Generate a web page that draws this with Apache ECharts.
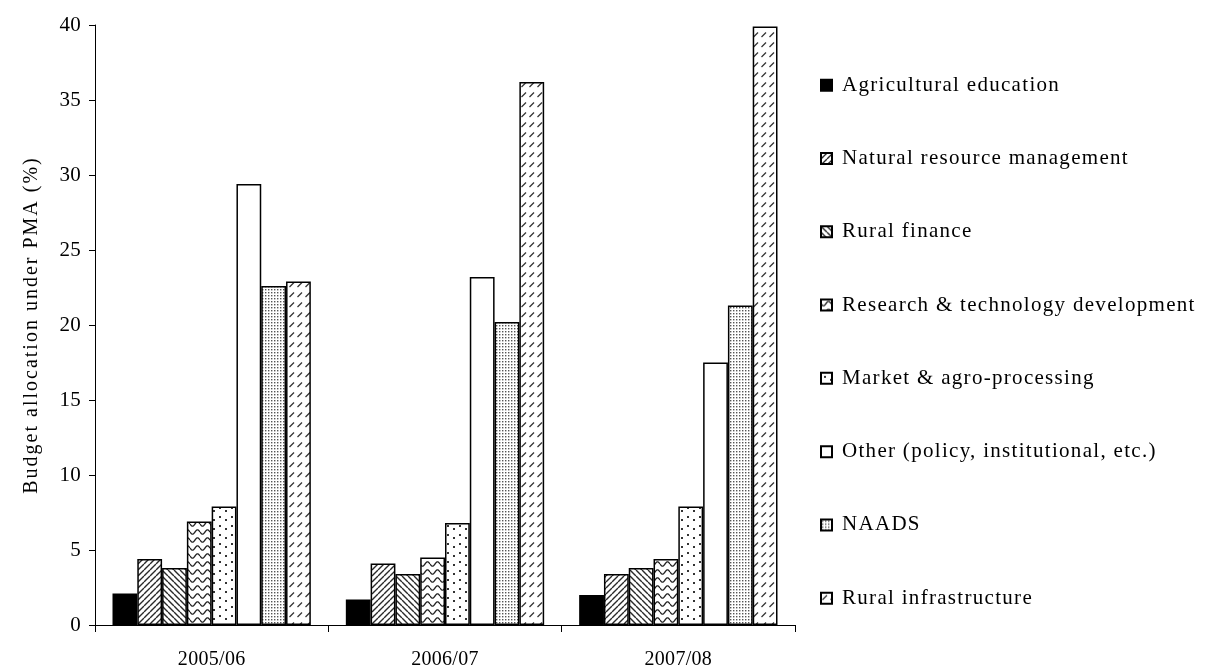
<!DOCTYPE html>
<html>
<head>
<meta charset="utf-8">
<script src="https://cdn.jsdelivr.net/npm/echarts@6/dist/echarts.min.js"></script>
<style>
  html, body { margin: 0; padding: 0; background: #fff; }
  #chart { width: 1205px; height: 669px; }
</style>
</head>
<body>
<div id="chart"></div>
<script>
// Budget allocation under PMA by programme area (%)
const categories = ['2005/06', '2006/07', '2007/08'];
const seriesNames = [
  'Agricultural education',
  'Natural resource management',
  'Rural finance',
  'Research & technology development',
  'Market & agro-processing',
  'Other (policy, institutional, etc.)',
  'NAADS',
  'Rural infrastructure'
];
const agriEducation   = [2.1, 1.7, 2.0];
const naturalResource = [4.4, 4.1, 3.4];
const ruralFinance    = [3.8, 3.4, 3.8];
const research        = [6.9, 4.5, 4.4];
const market          = [7.9, 6.8, 7.9];
const other           = [29.4, 23.2, 17.5];
const naads           = [22.6, 20.2, 21.3];
const ruralInfra      = [22.9, 36.2, 39.9];
const yTicks = { min: 0, max: 40, interval: 5 };

const seriesValues = [agriEducation, naturalResource, ruralFinance, research,
                      market, other, naads, ruralInfra];

// Font stacks: all resolve to the same serif face; each one carries its own
// letter spacing so the typeset look (loose tracking) is kept.
const fontTick   = '"Liberation Serif", serif';
const fontLegend = '"Liberation Serif", Tinos, serif';
const fontName   = '"Liberation Serif", "Times New Roman", serif';
const tracking = [
  [fontName, '2px'],
  [fontLegend, '1.3px'],
  [fontTick, '0.3px']
];
(function () {
  const proto = CanvasRenderingContext2D.prototype;
  if (!('letterSpacing' in proto)) return;
  const pick = (ctx) => {
    const f = ctx.font || '';
    let ls = '0px';
    for (const [stack, v] of tracking) {
      if (f.indexOf(stack) !== -1) { ls = v; break; }
    }
    ctx.letterSpacing = ls;
  };
  const fill = proto.fillText, measure = proto.measureText, stroke = proto.strokeText;
  proto.fillText = function () { pick(this); return fill.apply(this, arguments); };
  proto.strokeText = function () { pick(this); return stroke.apply(this, arguments); };
  proto.measureText = function () { pick(this); return measure.apply(this, arguments); };
})();

// Monochrome fill patterns drawn on small canvas tiles
function tile(w, h, draw) {
  const c = document.createElement('canvas');
  c.width = w; c.height = h;
  const g = c.getContext('2d');
  g.fillStyle = '#fff';
  g.fillRect(0, 0, w, h);
  draw(g, w, h);
  return { image: c, repeat: 'repeat' };
}
const fills = [
  '#000',
  // forward diagonal hatch
  tile(6, 6, (g, w, h) => {
    g.strokeStyle = '#2a2a2a'; g.lineWidth = 1.4;
    g.beginPath();
    for (let k = -1; k <= 1; k++) {
      g.moveTo(k * w, h); g.lineTo(k * w + w, 0);
    }
    g.stroke();
  }),
  // backward diagonal hatch
  tile(6, 6, (g, w, h) => {
    g.strokeStyle = '#2a2a2a'; g.lineWidth = 1.4;
    g.beginPath();
    for (let k = -1; k <= 1; k++) {
      g.moveTo(k * w, 0); g.lineTo(k * w + w, h);
    }
    g.stroke();
  }),
  // horizontal waves
  tile(10, 8, (g, w, h) => {
    g.strokeStyle = '#222'; g.lineWidth = 1.3;
    g.beginPath();
    for (let x = 0; x <= w; x += 0.5) {
      const y = 4 + 2.2 * Math.sin((x / w) * Math.PI * 2);
      if (x === 0) g.moveTo(x, y); else g.lineTo(x, y);
    }
    g.stroke();
  }),
  // sparse staggered dots
  tile(12, 18, (g) => {
    g.fillStyle = '#333';
    g.fillRect(3, 3, 2, 2);
    g.fillRect(9, 6, 2, 2);
    g.fillRect(3, 12, 2, 2);
    g.fillRect(9, 15, 2, 2);
  }),
  '#fff',
  // dense dot screen
  tile(3, 3, (g) => {
    g.fillStyle = '#555';
    g.fillRect(1, 1, 1.4, 1.4);
  }),
  // short dashed diagonals
  tile(8, 10, (g) => {
    g.strokeStyle = '#333'; g.lineWidth = 1.2;
    g.beginPath();
    g.moveTo(1.5, 7); g.lineTo(6, 2.5);
    g.stroke();
  })
];

const chart = echarts.init(document.getElementById('chart'), null, { renderer: 'canvas' });

chart.setOption({
  backgroundColor: '#fff',
  animation: false,
  grid: { left: 95, right: 410, top: 25, bottom: 44, containLabel: false, outerBoundsMode: 'none' },
  legend: {
    orient: 'vertical',
    left: 815,
    top: 69,
    icon: 'rect',
    itemWidth: 11,
    itemHeight: 11,
    itemGap: 51,
    textStyle: { fontFamily: fontLegend, fontSize: 21, color: '#000', lineHeight: 20, padding: [0, 0, 0, 5] },
    data: seriesNames
  },
  xAxis: {
    type: 'category',
    data: categories,
    axisLine: { lineStyle: { color: '#000', width: 1 } },
    axisTick: { show: true, length: 7, lineStyle: { color: '#000' } },
    axisLabel: { fontFamily: fontTick, fontSize: 20, color: '#000', margin: 25 }
  },
  yAxis: {
    type: 'value',
    min: yTicks.min,
    max: yTicks.max,
    interval: yTicks.interval,
    name: 'Budget allocation under PMA (%)',
    nameLocation: 'middle',
    nameGap: 52,
    nameTextStyle: { fontFamily: fontName, fontSize: 20, color: '#000' },
    axisLine: { show: true, lineStyle: { color: '#000', width: 1 } },
    axisTick: { show: true, length: 6, lineStyle: { color: '#000' } },
    axisLabel: { fontFamily: fontTick, fontSize: 21, color: '#000', margin: 14 },
    splitLine: { show: false }
  },
  series: seriesNames.map((name, i) => ({
    name,
    type: 'bar',
    data: seriesValues[i],
    barGap: '0%',
    barCategoryGap: '15%',
    itemStyle: { color: fills[i], borderColor: '#000', borderWidth: 1.5 }
  }))
});
</script>
</body>
</html>
